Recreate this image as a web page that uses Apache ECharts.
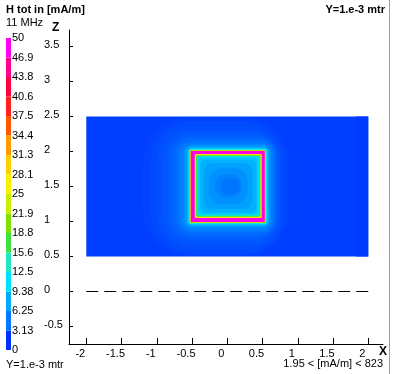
<!DOCTYPE html>
<html>
<head>
<meta charset="utf-8">
<script src="https://cdn.jsdelivr.net/npm/echarts@6/dist/echarts.min.js"></script>
<style>
html,body{margin:0;padding:0;background:#fff;}
#chart{width:394px;height:374px;}
</style>
</head>
<body>
<div id="chart"></div>
<script>
// ---- data ----
const xTicks = [-2, -1.5, -1, -0.5, 0, 0.5, 1, 1.5, 2];
const xTickLabels = ['-2', '-1.5', '-1', '-0.5', '0', '0.5', '1', '1.5', '2'];
const zTicks = [-0.5, 0, 0.5, 1, 1.5, 2, 2.5, 3, 3.5];
const zTickLabels = ['-0.5', '0', '0.5', '1', '1.5', '2', '2.5', '3', '3.5'];

const cbEdges = [0, 3.125, 6.25, 9.375, 12.5, 15.625, 18.75, 21.875, 25, 28.125, 31.25, 34.375, 37.5, 40.625, 43.75, 46.875, 50];
const cbLabels = ['0', '3.13', '6.25', '9.38', '12.5', '15.6', '18.8', '21.9', '25', '28.1', '31.3', '34.4', '37.5', '40.6', '43.8', '46.9', '50'];
const cbColors = ['#0030ff', '#0078ff', '#00aaff', '#00e0ff', '#20e8c0', '#40e040', '#80e000', '#c8f000',
                  '#f8f000', '#ffd000', '#ff9c00', '#ff5800', '#ff2020', '#ff0040', '#ff0090', '#ff00f0'];

// field map regions: [x0, x1, z0, z1, H value in mA/m], painted in order
const fieldBase = [-2, 2, 0.5, 2.5, 2.2];
const fieldEdgeStrip = [1.83, 2.0, 0.5, 2.5, 1.95];
const outerContours = [
  [-1.199, 0.872, 0.507, 2.493, 2.45],
  [-1.085, 0.816, 0.536, 2.436, 2.7],
  [-1.000, 0.773, 0.607, 2.364, 2.95],
  [-0.915, 0.745, 0.679, 2.293, 3.2],
  [-0.844, 0.716, 0.736, 2.250, 3.5],
  [-0.788, 0.702, 0.779, 2.207, 3.9],
  [-0.731, 0.674, 0.822, 2.164, 4.3],
  [-0.688, 0.660, 0.850, 2.136, 4.8],
  [-0.646, 0.631, 0.879, 2.107, 5.4],
  [-0.617, 0.617, 0.907, 2.093, 6.0],
  [-0.596, 0.603, 0.922, 2.078, 6.8],
  [-0.575, 0.589, 0.936, 2.064, 7.6],
  [-0.563, 0.577, 0.947, 2.053, 8.8],
  [-0.553, 0.567, 0.957, 2.043, 10],
  [-0.546, 0.560, 0.964, 2.036, 12],
  [-0.539, 0.553, 0.972, 2.028, 14],
  [-0.534, 0.548, 0.977, 2.023, 17],
  [-0.529, 0.543, 0.982, 2.018, 22],
  [-0.524, 0.538, 0.987, 2.013, 30]
];
const ringRect = [-0.518, 0.532, 0.993, 2.007, 48];
const innerContours = [
  [-0.461, 0.489, 1.050, 1.964, 28],
  [-0.444, 0.472, 1.067, 1.947, 17],
  [-0.430, 0.458, 1.081, 1.933, 12],
  [-0.411, 0.439, 1.100, 1.914, 9.6],
  [-0.383, 0.411, 1.128, 1.886, 8.3],
  [-0.333, 0.361, 1.178, 1.836, 7.2],
  [-0.261, 0.289, 1.250, 1.764, 6.2],
  [-0.176, 0.204, 1.335, 1.679, 5.4],
  [-0.100, 0.180, 1.380, 1.620, 4.6]
];
const referenceLine = [[-2, 0], [2, 0]];

// ---- build series data ----
function offsetFrom(ref, c) {
  return Math.abs((ref[0] - c[0]) + (c[1] - ref[1]) + (ref[2] - c[2]) + (c[3] - ref[3])) / 4;
}
const fieldData = [];
fieldData.push(fieldBase.concat([0]));
fieldData.push(fieldEdgeStrip.concat([0]));
outerContours.forEach(c => fieldData.push(c.concat([offsetFrom(ringRect, c) * 1.3])));
fieldData.push(ringRect.concat([0]));
innerContours.forEach(c => fieldData.push(c.concat([offsetFrom(innerContours[0], c)])));

const chart = echarts.init(document.getElementById('chart'), null, {renderer: 'canvas'});
const font = 'Liberation Sans, Arial, sans-serif';

const cbSeries = [];
for (let k = 0; k < cbColors.length; k++) {
  cbSeries.push({
    type: 'bar', xAxisIndex: 1, yAxisIndex: 1, stack: 'cb',
    data: [cbEdges[k + 1] - cbEdges[k]],
    barWidth: '100%', silent: true,
    itemStyle: {color: cbColors[k]}
  });
}

const option = {
  animation: false,
  backgroundColor: '#fff',
  textStyle: {fontFamily: font},
  grid: [
    {left: 69, right: 11, top: 30, bottom: 30},
    {left: 6, top: 38, width: 5, height: 312}
  ],
  xAxis: [{
    type: 'value', gridIndex: 0, min: -2.245, max: 2.209,
    axisLine: {show: true, onZero: false, lineStyle: {color: '#000', width: 1}},
    axisTick: {show: true, inside: true, length: 6, customValues: xTicks, lineStyle: {color: '#000'}},
    axisLabel: {
      customValues: xTicks, margin: 4,
      formatter: v => '{a|' + xTickLabels[xTicks.indexOf(v)] + '}',
      rich: {a: {fontSize: 11, color: '#000', fontFamily: font, padding: [0, 12, 0, 0]}}
    },
    splitLine: {show: false}
  }, {
    type: 'category', gridIndex: 1, data: ['H'], show: false
  }],
  yAxis: [{
    type: 'value', gridIndex: 0, min: -0.75, max: 3.7357,
    axisLine: {show: true, onZero: false, lineStyle: {color: '#000', width: 1}},
    axisTick: {show: true, inside: true, length: 4, customValues: zTicks, lineStyle: {color: '#000'}},
    axisLabel: {
      customValues: zTicks, margin: 25, align: 'left',
      formatter: v => '{a|' + zTickLabels[zTicks.indexOf(v)] + '}',
      rich: {a: {fontSize: 11, color: '#000', fontFamily: font, padding: [0, 0, 4, 0]}}
    },
    splitLine: {show: false}
  }, {
    type: 'value', gridIndex: 1, min: 0, max: 50, position: 'right',
    axisLine: {show: false}, axisTick: {show: false}, splitLine: {show: false},
    axisLabel: {
      customValues: cbEdges, margin: 1, fontSize: 11, color: '#000', fontFamily: font,
      formatter: v => cbLabels[cbEdges.indexOf(v)]
    }
  }],
  visualMap: {
    type: 'continuous', show: false, seriesIndex: 0, dimension: 4,
    min: 1.5625, max: 48.4375,
    inRange: {color: cbColors}
  },
  series: [{
    type: 'custom', xAxisIndex: 0, yAxisIndex: 0,
    data: fieldData,
    encode: {x: [0, 1], y: [2, 3]},
    silent: true,
    renderItem: function (params, api) {
      const p0 = api.coord([api.value(0), api.value(3)]);
      const p1 = api.coord([api.value(1), api.value(2)]);
      const w = p1[0] - p0[0], h = p1[1] - p0[1];
      const unit = api.size([1, 1]);
      let r = api.value(5) * (unit[0] + unit[1]) / 2;
      r = Math.min(r, w / 2, h / 2);
      return {
        type: 'rect',
        shape: {x: p0[0], y: p0[1], width: w, height: h, r: r},
        style: {fill: api.visual('color')}
      };
    }
  }, {
    type: 'line', xAxisIndex: 0, yAxisIndex: 0,
    data: referenceLine, symbol: 'none', silent: true,
    lineStyle: {color: '#000', width: 1, type: [12, 6]}
  }].concat(cbSeries),
  graphic: [
    {type: 'text', left: 6, top: 4, style: {text: 'H tot in [mA/m]', font: 'bold 11px ' + font, fill: '#000'}},
    {type: 'text', left: 6, top: 17, style: {text: '11 MHz', font: '11px ' + font, fill: '#000'}},
    {type: 'text', right: 9, top: 4, style: {text: 'Y=1.e-3 mtr', font: 'bold 11px ' + font, fill: '#000'}},
    {type: 'text', left: 6, top: 359, style: {text: 'Y=1.e-3 mtr', font: '11px ' + font, fill: '#000'}},
    {type: 'text', right: 11, top: 358, style: {text: '1.95 < [mA/m] < 823', font: '11px ' + font, fill: '#000'}},
    {type: 'text', left: 52, top: 22, style: {text: 'Z', font: 'bold 12px ' + font, fill: '#000'}},
    {type: 'text', left: 379, top: 346, style: {text: 'X', font: 'bold 12px ' + font, fill: '#000'}},
    {type: 'line', shape: {x1: 389.5, y1: 0, x2: 389.5, y2: 374}, style: {stroke: '#a0a0a0', lineWidth: 1}}
  ]
};
chart.setOption(option);
</script>
</body>
</html>
